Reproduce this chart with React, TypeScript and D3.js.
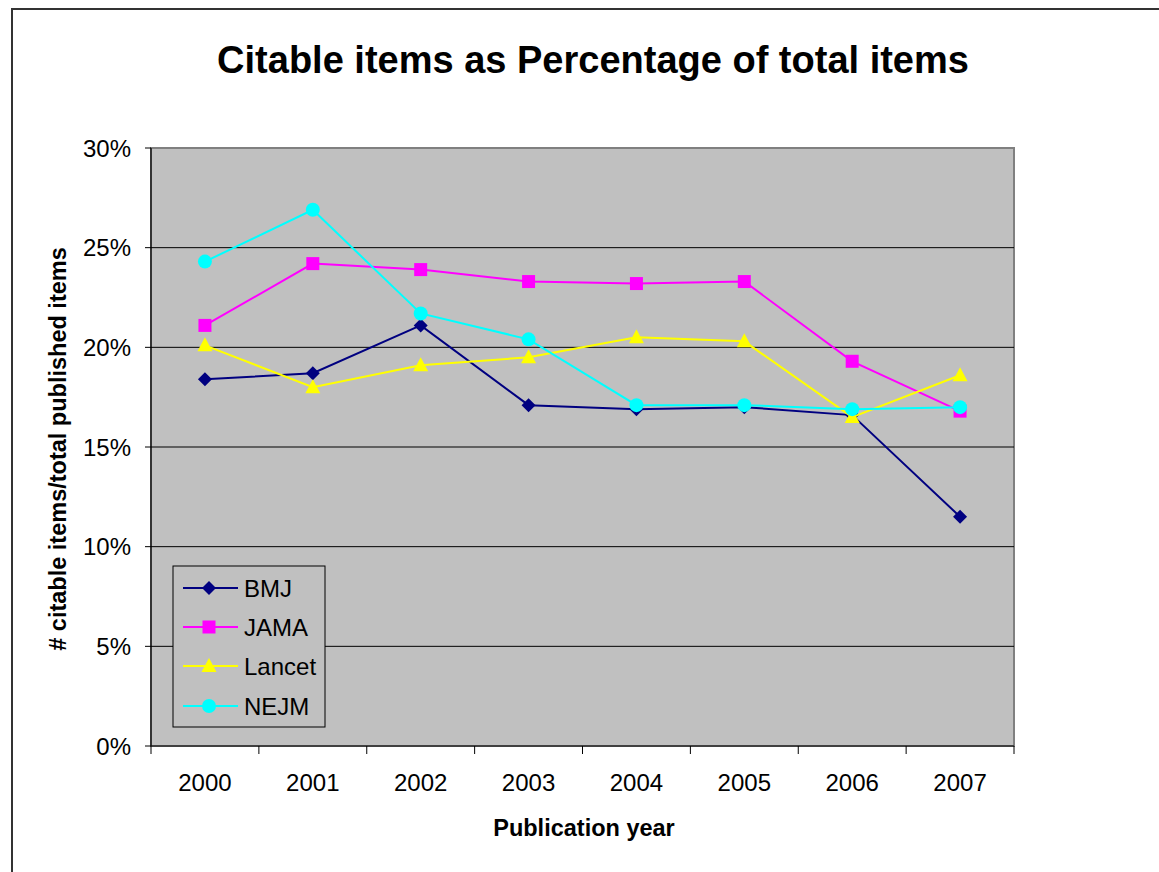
import React from "react";
import * as d3 from "d3";

const years = ["2000", "2001", "2002", "2003", "2004", "2005", "2006", "2007"];
const bmj = [18.4, 18.7, 21.1, 17.1, 16.9, 17.0, 16.6, 11.5];
const jama = [21.1, 24.2, 23.9, 23.3, 23.2, 23.3, 19.3, 16.8];
const lancet = [20.1, 18.0, 19.1, 19.5, 20.5, 20.3, 16.5, 18.6];
const nejm = [24.3, 26.9, 21.7, 20.4, 17.1, 17.1, 16.9, 17.0];
const yTicks = [0, 5, 10, 15, 20, 25, 30];

const series = [
  { name: "BMJ", values: bmj, color: "#000080", marker: "diamond" },
  { name: "JAMA", values: jama, color: "#FF00FF", marker: "square" },
  { name: "Lancet", values: lancet, color: "#FFFF00", marker: "triangle" },
  { name: "NEJM", values: nejm, color: "#00FFFF", marker: "circle" },
];

const font = "'Liberation Sans', Arial, sans-serif";

function Marker({ type, x, y, color }: { type: string; x: number; y: number; color: string }) {
  if (type === "diamond") {
    const s = 7;
    return <path d={`M${x},${y - s}L${x + s},${y}L${x},${y + s}L${x - s},${y}Z`} fill={color} />;
  }
  if (type === "square") {
    const s = 6.5;
    return <rect x={x - s} y={y - s} width={2 * s} height={2 * s} fill={color} />;
  }
  if (type === "triangle") {
    return <path d={`M${x},${y - 8}L${x + 7.5},${y + 6}L${x - 7.5},${y + 6}Z`} fill={color} />;
  }
  return <circle cx={x} cy={y} r={7} fill={color} />;
}

export default function App() {
  const left = 151, right = 1014, top = 148, bottom = 746;
  const x = d3.scaleBand<string>().domain(years).range([left, right]);
  const y = d3.scaleLinear().domain([0, 30]).range([bottom, top]);
  const cx = (d: string) => (x(d) as number) + x.bandwidth() / 2;
  const line = d3
    .line<number>()
    .x((_, i) => cx(years[i]))
    .y((v) => y(v));

  const legendItems = [588, 627, 666, 706];

  return (
    <div style={{ position: "absolute", left: 0, top: 0 }}>
      <svg width={1159} height={872} style={{ display: "block", fontFamily: font }}>
        <rect x={0} y={0} width={1159} height={872} fill="#fff" />
        <rect x={12} y={9} width={1200} height={900} fill="none" stroke="#333" strokeWidth={2} />
        <text x={593} y={73} textAnchor="middle" fontSize={38} fontWeight="bold">
          Citable items as Percentage of total items
        </text>
        {/* plot area */}
        <rect x={left} y={top} width={right - left} height={bottom - top} fill="#C0C0C0" stroke="#808080" strokeWidth={2} />
        {yTicks.filter((t) => t > 0 && t < 30).map((t) => (
          <line key={t} x1={left} x2={right} y1={y(t)} y2={y(t)} stroke="#000" strokeWidth={1} />
        ))}
        {/* axes */}
        <line x1={left} x2={left} y1={top} y2={bottom} stroke="#000" strokeWidth={1.2} />
        <line x1={left} x2={right} y1={bottom} y2={bottom} stroke="#000" strokeWidth={1.2} />
        {yTicks.map((t) => (
          <g key={t}>
            <line x1={left - 6} x2={left} y1={y(t)} y2={y(t)} stroke="#000" />
            <text x={131} y={y(t) + 8.5} textAnchor="end" fontSize={24}>
              {t}%
            </text>
          </g>
        ))}
        {years.map((yr) => (
          <line key={"t" + yr} x1={x(yr) as number} x2={x(yr) as number} y1={bottom} y2={bottom + 8} stroke="#000" />
        ))}
        <line x1={right} x2={right} y1={bottom} y2={bottom + 8} stroke="#000" />
        {years.map((yr) => (
          <text key={yr} x={cx(yr)} y={791} textAnchor="middle" fontSize={24}>
            {yr}
          </text>
        ))}
        <text x={584} y={836} textAnchor="middle" fontSize={23.5} fontWeight="bold">
          Publication year
        </text>
        <text
          transform={`translate(66,449) rotate(-90)`}
          textAnchor="middle"
          fontSize={23.5}
          fontWeight="bold"
        >
          # citable items/total published items
        </text>
        {/* series */}
        {series.map((s) => (
          <g key={s.name}>
            <path d={line(s.values) as string} fill="none" stroke={s.color} strokeWidth={2} />
            {s.values.map((v, i) => (
              <Marker key={i} type={s.marker} x={cx(years[i])} y={y(v)} color={s.color} />
            ))}
          </g>
        ))}
        {/* legend */}
        <rect x={173} y={566} width={152} height={161} fill="#C0C0C0" stroke="#000" strokeWidth={1} />
        {series.map((s, i) => (
          <g key={"l" + s.name}>
            <line x1={183} x2={238} y1={legendItems[i]} y2={legendItems[i]} stroke={s.color} strokeWidth={2} />
            <Marker type={s.marker} x={209} y={legendItems[i]} color={s.color} />
            <text x={244} y={legendItems[i] + 8.5} fontSize={24}>
              {s.name}
            </text>
          </g>
        ))}
      </svg>
    </div>
  );
}
